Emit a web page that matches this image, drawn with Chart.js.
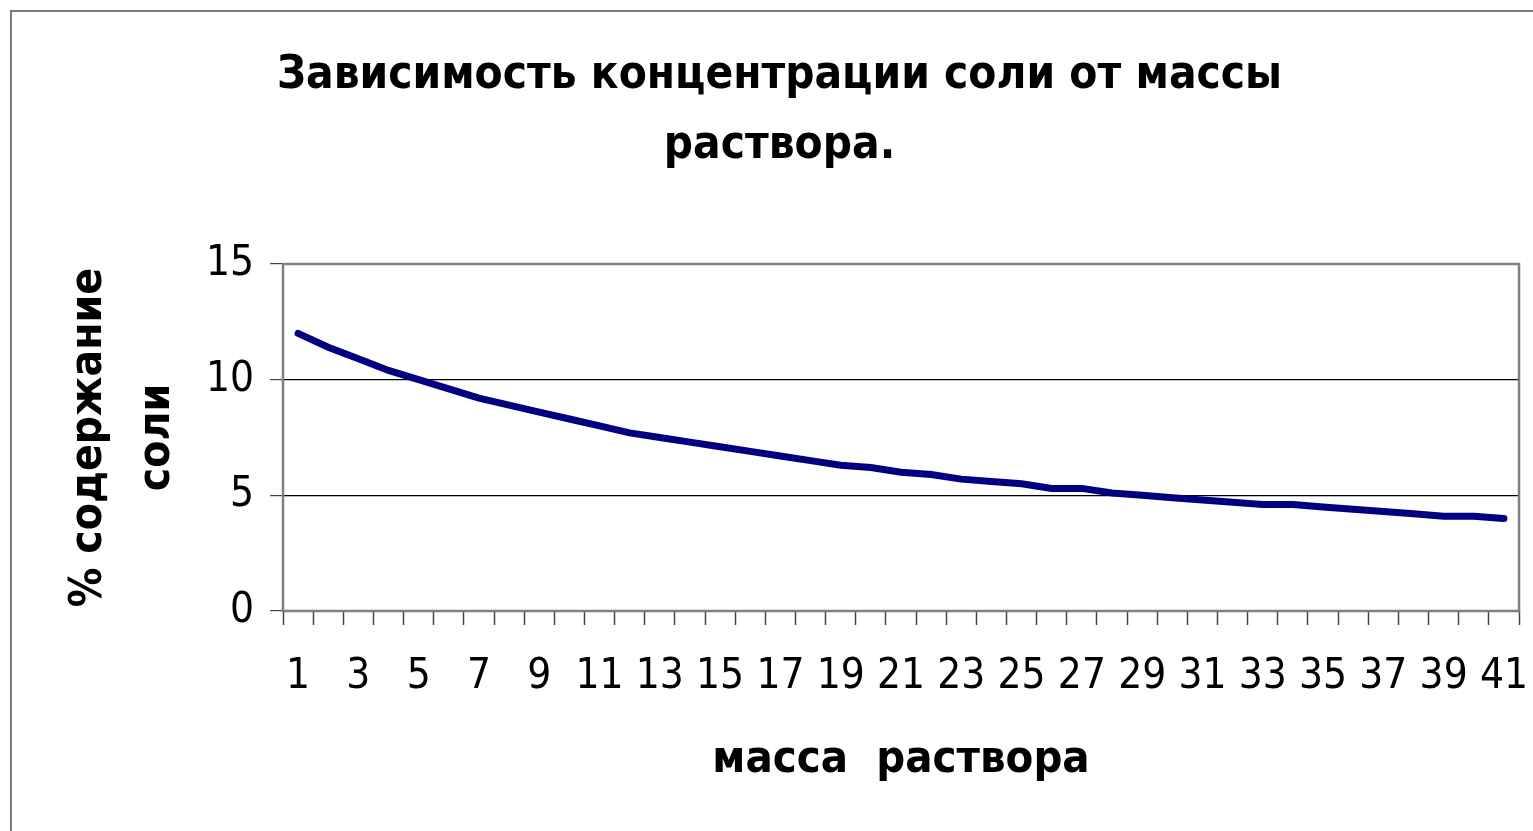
<!DOCTYPE html>
<html>
<head>
<meta charset="utf-8">
<script src="https://cdn.jsdelivr.net/npm/chart.js@4"></script>
<style>
  body { margin: 0; background: #fff; }
</style>
</head>
<body>
<canvas id="saltChart" width="1533" height="831"></canvas>
<script>
// масса раствора (categories) and % содержание соли
const massLabels = ['1','2','3','4','5','6','7','8','9','10','11','12','13','14','15','16','17','18','19','20',
  '21','22','23','24','25','26','27','28','29','30','31','32','33','34','35','36','37','38','39','40','41'];
const saltPercent = [12.0, 11.4, 10.9, 10.4, 10.0, 9.6, 9.2, 8.9, 8.6, 8.3,
  8.0, 7.7, 7.5, 7.3, 7.1, 6.9, 6.7, 6.5, 6.3, 6.2,
  6.0, 5.9, 5.7, 5.6, 5.5, 5.3, 5.3, 5.1, 5.0, 4.9,
  4.8, 4.7, 4.6, 4.6, 4.5, 4.4, 4.3, 4.2, 4.1, 4.1, 4.0];
const yTicks = [0, 5, 10, 15];

const fam = "'DejaVu Sans Condensed', 'DejaVu Sans', sans-serif";

const framePlugin = {
  id: 'frame',
  beforeDraw(chart) {
    const ctx = chart.ctx;
    ctx.save();
    ctx.fillStyle = '#fff';
    ctx.fillRect(0, 0, chart.width, chart.height);
    ctx.strokeStyle = '#7a7a7a';
    ctx.lineWidth = 2;
    ctx.strokeRect(11, 11, 3000, 3000);
    ctx.restore();
  },
  afterDatasetsDraw(chart) {
    const {ctx, chartArea: a} = chart;
    ctx.save();
    ctx.strokeStyle = '#808080';
    ctx.lineWidth = 2.5;
    ctx.strokeRect(a.left, a.top, a.right - a.left, a.bottom - a.top);
    ctx.restore();
  }
};

const saltCtx = document.getElementById('saltChart').getContext('2d');
new Chart(saltCtx, {
  type: 'line',
  data: {
    labels: massLabels,
    datasets: [{
      label: '% содержание соли',
      data: saltPercent,
      borderColor: '#000080',
      borderWidth: 7,
      pointRadius: 0,
      tension: 0,
      borderCapStyle: 'round'
    }]
  },
  options: {
    responsive: false,
    animation: false,
    layout: { padding: { left: 40, right: 14, top: 0, bottom: 0 } },
    plugins: {
      legend: { display: false },
      tooltip: { enabled: false },
      title: {
        display: true,
        text: ['Зависимость концентрации соли от массы', 'раствора.'],
        color: '#000',
        font: { family: fam, size: 45.5, weight: 'bold', lineHeight: '70px' },
        padding: { top: 41, bottom: 83 }
      }
    },
    scales: {
      x: {
        offset: true,
        grid: { offset: true, drawOnChartArea: false, tickLength: 14, tickColor: '#444', tickWidth: 1.5 },
        border: { display: false },
        ticks: {
          autoSkip: false, maxRotation: 0, padding: 27, color: '#000',
          font: { family: fam, size: 42 },
          callback(v, i) { return i % 2 === 0 ? massLabels[i] : ''; }
        },
        title: {
          display: true, text: 'масса  раствора', color: '#000',
          font: { family: fam, size: 45, weight: 'bold', lineHeight: '60px' },
          padding: { top: 0, bottom: 41 }
        },
        afterFit(s) { s.height = 220; s.paddingLeft = 0; s.paddingRight = 0; }
      },
      y: {
        min: 0, max: 15,
        afterBuildTicks(s) { s.ticks = yTicks.map(v => ({ value: v })); },
        grid: {
          color: c => (c.tick && (c.tick.value === 0 || c.tick.value === 15)) ? 'rgba(0,0,0,0)' : '#000',
          lineWidth: 1.2, tickLength: 13, tickColor: '#444'
        },
        border: { display: false },
        ticks: { padding: 16, color: '#000', font: { family: fam, size: 42 } },
        title: {
          display: true, text: ['% содержание', 'соли'], color: '#000',
          font: { family: fam, size: 44, weight: 'bold', lineHeight: '68px' },
          padding: { top: 16, bottom: 0 }
        },
        afterFit(s) { s.width = 243; }
      }
    }
  },
  plugins: [framePlugin]
});
</script>
</body>
</html>
